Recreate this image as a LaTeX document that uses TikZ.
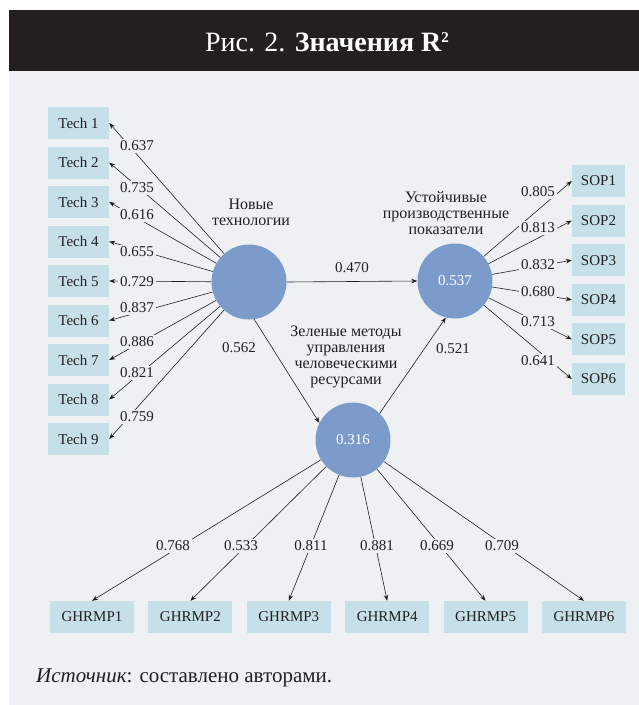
\documentclass[tikz,border=0pt]{standalone}
\usepackage{fontspec}
\setmainfont{Liberation Serif}
\usetikzlibrary{arrows.meta}
\definecolor{bg}{HTML}{EEF0F4}
\definecolor{hdr}{HTML}{231F20}
\definecolor{ink}{HTML}{231F20}
\definecolor{boxc}{HTML}{C6E0E9}
\definecolor{circc}{HTML}{7B9CCB}
\tikzset{
  box/.style={fill=boxc, minimum height=32pt, inner sep=0pt, text=ink, font=\fontsize{15}{16}\selectfont},
  techbox/.style={box, minimum width=61pt},
  sopbox/.style={box, minimum width=53pt},
  ghbox/.style={box, minimum width=84pt},
  circ/.style={circle, fill=circc, minimum size=75pt, inner sep=0pt, text=white, font=\fontsize{15}{16}\selectfont},
  arr/.style={draw=ink, line width=0.6pt, -{Stealth[length=6pt,width=4.5pt]}},
  lab/.style={fill=bg, inner sep=2pt, text=ink, font=\fontsize{15}{16}\selectfont},
  plainlab/.style={inner sep=1pt, text=ink, font=\fontsize{15}{16}\selectfont},
  ctitle/.style={align=center, text=ink, font=\fontsize{16}{16}\selectfont}
}
\begin{document}
\begin{tikzpicture}[x=1pt,y=-1pt]
\useasboundingbox (0,0) rectangle (639,705);
\fill[white] (0,0) rectangle (639,705);
\fill[bg] (9,71) rectangle (639,705);
\fill[hdr] (9,10) rectangle (639,71);
\node[text=white, font=\fontsize{28}{32}\selectfont, inner sep=0pt] (title) at (327,42) {Рис. 2. \textbf{Значения R\raisebox{9pt}{\fontsize{15}{15}\selectfont 2}}};

% circles
\node[circ] (new) at (249,282) {};
\node[circ] (sop) at (455,281) {0.537};
\node[circ] (gh) at (353,440) {0.316};

\node[ctitle] (newt) at (251,212) {Новые\\технологии};
\node[ctitle] (sopt) at (446,213) {Устойчивые\\производственные\\показатели};
\node[ctitle] (ght) at (346,357) {Зеленые методы\\управления\\человеческими\\ресурсами};

% boxes
\foreach \i in {1,...,9}{
  \node[techbox] (t\i) at (78.5,{123+39.5*(\i-1)}) {Tech \i};
}
\foreach \i in {1,...,6}{
  \node[sopbox] (s\i) at (598.5,{181+39.6*(\i-1)}) {SOP\i};
  \node[ghbox] (g\i) at ({92+98.4*(\i-1)},617) {GHRMP\i};
}

% edges
\foreach \i in {1,...,9}{ \draw[arr] (new) -- (t\i.east); }
\foreach \i in {1,...,6}{
  \draw[arr] (sop) -- (s\i.west);
  \draw[arr] (gh) -- (g\i.north);
}
\draw[arr] (new.east) -- (sop.west);
\draw[arr] (new.-82) -- (gh.153);
\draw[arr] (gh.45) -- (sop.256);

% loading labels
\foreach \v/\y [count=\k] in {0.637/146,0.735/188,0.616/215,0.655/252,0.729/282,0.837/308,0.886/342,0.821/373,0.759/417}{
  \node[lab] (lt\k) at (137,\y) {\v};
}
\foreach \v/\y [count=\k] in {0.805/192,0.813/228,0.832/265,0.680/292,0.713/322,0.641/361}{
  \node[lab] (ls\k) at (538,\y) {\v};
}
\foreach \v/\x [count=\k] in {0.768/173,0.533/241,0.811/311,0.881/377,0.669/437,0.709/502}{
  \node[lab] (lg\k) at (\x,546) {\v};
}
\node[plainlab] (l470) at (352,268) {0.470};
\node[plainlab] (l562) at (239,348) {0.562};
\node[plainlab] (l521) at (453,349) {0.521};

% source
\node[anchor=base west, inner sep=0pt, text=ink, font=\fontsize{21}{24}\selectfont] (src) at (36,682) {\textit{Источник}: составлено авторами.};
\end{tikzpicture}
\end{document}
